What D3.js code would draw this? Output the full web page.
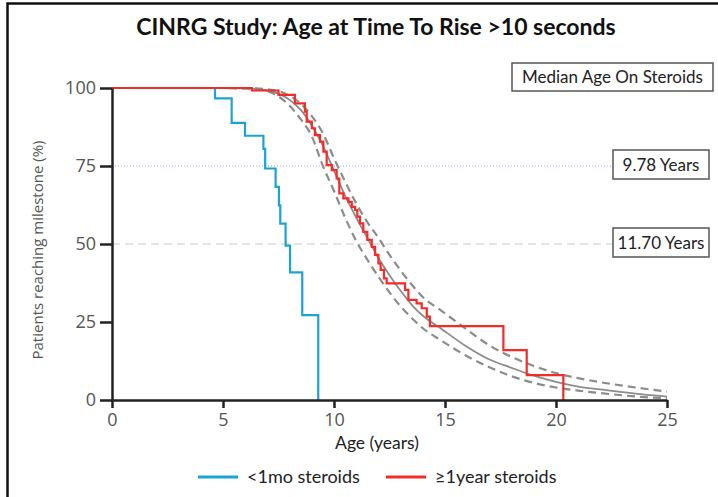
<!DOCTYPE html>
<html>
<head>
<meta charset="utf-8">
<script src="https://cdn.jsdelivr.net/npm/d3@7"></script>
<style>
  body { margin: 0; background: #fff; }
  svg { display: block; }
</style>
</head>
<body>
<script>
// CINRG time to rise curves

var xTicks = [0, 5, 10, 15, 20, 25],
    yTicks = [0, 25, 50, 75, 100];

// <1mo steroids (step curve: age of drop, value after drop)
var blueAges   = [0, 4.64, 5.39, 5.99, 6.82, 6.9, 7.37, 7.52, 7.58, 7.82, 8.02, 8.57, 9.29];
var blueValues = [100, 96.7, 88.8, 84.7, 80.5, 74.2, 68.3, 62.4, 56.5, 49.5, 40.9, 27.2, 0];

// >=1year steroids
var redAges   = [0, 6.3, 7.5, 8.24, 8.69, 8.77, 9.0, 9.14, 9.37, 9.52, 9.67, 9.9, 10.12, 10.24, 10.42,
                 10.65, 10.8, 10.95, 11.05, 11.17, 11.32, 11.5, 11.7, 11.85, 12.0, 12.1, 12.25, 12.37,
                 13.2, 13.35, 13.72, 13.95, 14.18, 14.32, 17.63, 18.68, 20.33];
var redValues = [100, 99.2, 97.8, 95.1, 92.4, 89.2, 87.1, 84.9, 82.8, 79.6, 75.3, 73.7, 71.0, 66.2, 64.6,
                 63.5, 61.9, 60.9, 58.8, 56.6, 53.9, 51.3, 49.1, 46.5, 43.8, 41.7, 39.0, 37.4,
                 35.3, 32.1, 31.0, 29.4, 26.7, 23.7, 16.0, 8.0, 0];

// fitted curve and its confidence band (grey)
var fitAges  = [0, 5, 6, 6.5, 7, 7.5, 8, 8.5, 9, 9.5, 10, 10.5, 11, 11.5, 12, 12.5, 13, 13.5, 14, 14.8,
                16, 17, 18, 19, 20, 21, 22, 23, 24, 25];
var fitMid   = [100, 100, 99.9, 99.7, 99.2, 98.2, 96.2, 93, 88, 81.5, 73.5, 65.5, 58.5, 52, 45.5, 40, 35,
                30.5, 27, 23, 17, 13, 10.3, 7.8, 5.8, 4.3, 3.4, 2.5, 1.7, 1.1];
var fitUpper = [100, 100, 100, 99.9, 99.6, 99, 97.5, 95, 91, 85.5, 77.5, 70, 63, 57, 52, 46.5, 41.5,
                37, 33, 28.8, 22.5, 17.5, 13.8, 10.9, 8.6, 7, 5.7, 4.6, 3.6, 2.7];
var fitLower = [100, 100, 99.8, 99.6, 99, 97.3, 94.3, 90, 84.5, 75, 67, 58.5, 51, 45, 39.5, 34.5, 30,
                26.3, 23, 19.2, 14, 10.5, 7.6, 5.5, 4, 3, 2.2, 1.5, 0.9, 0.6];

var medianLevels = [75, 50],
    medianLabels = ["9.78 Years", "11.70 Years"];

var seriesNames  = ["<1mo steroids", "\u22651year steroids"],
    seriesColors = ["#1ba3d6", "#f42b26"];

var w = 718,
    h = 497;

var svg = d3.select("body").append("svg")
    .attr("width", w)
    .attr("height", h)
    .style("font-family", "Lato, 'Open Sans', sans-serif");

svg.append("rect").attr("width", w).attr("height", h).attr("fill", "#fff");

// frame around the slide
svg.append("path")
    .attr("d", "M7.5," + h + "V3.5H" + w)
    .attr("fill", "none")
    .attr("stroke", "#111")
    .attr("stroke-width", 2.5);

var xScale = d3.scaleLinear().domain([0, 25]).range([112, 667]);
var yScale = d3.scaleLinear().domain([0, 100]).range([400, 88]);

function zip(a, b) {
    return a.map(function (d, i) { return [d, b[i]]; });
}

// title
svg.append("text")
    .attr("x", 376)
    .attr("y", 35)
    .attr("text-anchor", "middle")
    .attr("font-size", 23)
    .attr("font-weight", "bold")
    .attr("fill", "#111")
    .text("CINRG Study: Age at Time To Rise >10 seconds");

// reference lines for the medians
svg.append("line")
    .attr("x1", xScale(0)).attr("x2", 613)
    .attr("y1", yScale(75)).attr("y2", yScale(75))
    .attr("stroke", "#8eaae6")
    .attr("stroke-width", 1)
    .attr("stroke-dasharray", "1,2");

svg.append("line")
    .attr("x1", xScale(0)).attr("x2", 613)
    .attr("y1", yScale(50)).attr("y2", yScale(50))
    .attr("stroke", "#c9c9c9")
    .attr("stroke-width", 1.2)
    .attr("stroke-dasharray", "8,5");

// fitted curves
var smooth = d3.line()
    .x(function (d) { return xScale(d[0]); })
    .y(function (d) { return yScale(d[1]); })
    .curve(d3.curveMonotoneX);

[fitUpper, fitLower].forEach(function (vals) {
    svg.append("path")
        .attr("d", smooth(zip(fitAges, vals)))
        .attr("fill", "none")
        .attr("stroke", "#8c8c8c")
        .attr("stroke-width", 2.2)
        .attr("stroke-dasharray", "8,5");
});

svg.append("path")
    .attr("d", smooth(zip(fitAges, fitMid)))
    .attr("fill", "none")
    .attr("stroke", "#8c8c8c")
    .attr("stroke-width", 1.8);

// Kaplan-Meier steps
var step = d3.line()
    .x(function (d) { return xScale(d[0]); })
    .y(function (d) { return yScale(d[1]); })
    .curve(d3.curveStepAfter);

svg.append("path")
    .attr("d", step(zip(blueAges, blueValues)))
    .attr("fill", "none")
    .attr("stroke", seriesColors[0])
    .attr("stroke-width", 2.2);

svg.append("path")
    .attr("d", step(zip(redAges, redValues)))
    .attr("fill", "none")
    .attr("stroke", seriesColors[1])
    .attr("stroke-width", 2.2);

// axes
var xAxisGen = d3.axisBottom(xScale).tickValues(xTicks).tickSize(8).tickSizeOuter(0).tickPadding(5);
var yAxisGen = d3.axisLeft(yScale).tickValues(yTicks).tickSize(12).tickSizeOuter(0).tickPadding(4);

var xAxis = svg.append("g")
    .attr("class", "x-axis")
    .attr("transform", "translate(0," + yScale(0) + ")")
    .call(xAxisGen);

var yAxis = svg.append("g")
    .attr("class", "y-axis")
    .attr("transform", "translate(" + xScale(0) + ",0)")
    .call(yAxisGen);

[xAxis, yAxis].forEach(function (g) {
    g.select(".domain").attr("stroke", "#222").attr("stroke-width", 2.5);
    g.selectAll(".tick line").attr("stroke", "#222").attr("stroke-width", 2.5);
    g.selectAll(".tick text")
        .attr("fill", "#555")
        .attr("font-size", 18)
        .attr("font-family", "'Open Sans', sans-serif");
});

svg.append("text")
    .attr("transform", "translate(43," + 250 + ") rotate(-90)")
    .attr("text-anchor", "middle")
    .attr("font-size", 15)
    .attr("font-family", "'Open Sans', sans-serif")
    .attr("fill", "#555")
    .text("Patients reaching milestone (%)");

svg.append("text")
    .attr("x", 377)
    .attr("y", 449)
    .attr("text-anchor", "middle")
    .attr("font-size", 17.5)
    .attr("fill", "#222")
    .text("Age (years)");

// median boxes
function box(x, y, bw, bh, label) {
    svg.append("rect")
        .attr("x", x).attr("y", y)
        .attr("width", bw).attr("height", bh)
        .attr("fill", "#fff")
        .attr("stroke", "#555")
        .attr("stroke-width", 1.5);
    svg.append("text")
        .attr("x", x + bw / 2)
        .attr("y", y + bh / 2 + 6)
        .attr("text-anchor", "middle")
        .attr("font-size", 17)
        .attr("fill", "#222")
        .text(label);
}

box(512, 63, 201, 28, "Median Age On Steroids");
medianLevels.forEach(function (v, i) {
    box(613, yScale(v) - 16, 96, 29, medianLabels[i]);
});

// legend
var legendX = [198, 386];
seriesNames.forEach(function (name, i) {
    var g = svg.append("g").attr("transform", "translate(" + legendX[i] + ",477)");
    g.append("line")
        .attr("x1", 0).attr("x2", 40)
        .attr("stroke", seriesColors[i])
        .attr("stroke-width", 3);
    g.append("text")
        .attr("x", 49)
        .attr("y", 6)
        .attr("font-size", 18)
        .attr("fill", "#222")
        .text(name);
});
</script>
</body>
</html>
